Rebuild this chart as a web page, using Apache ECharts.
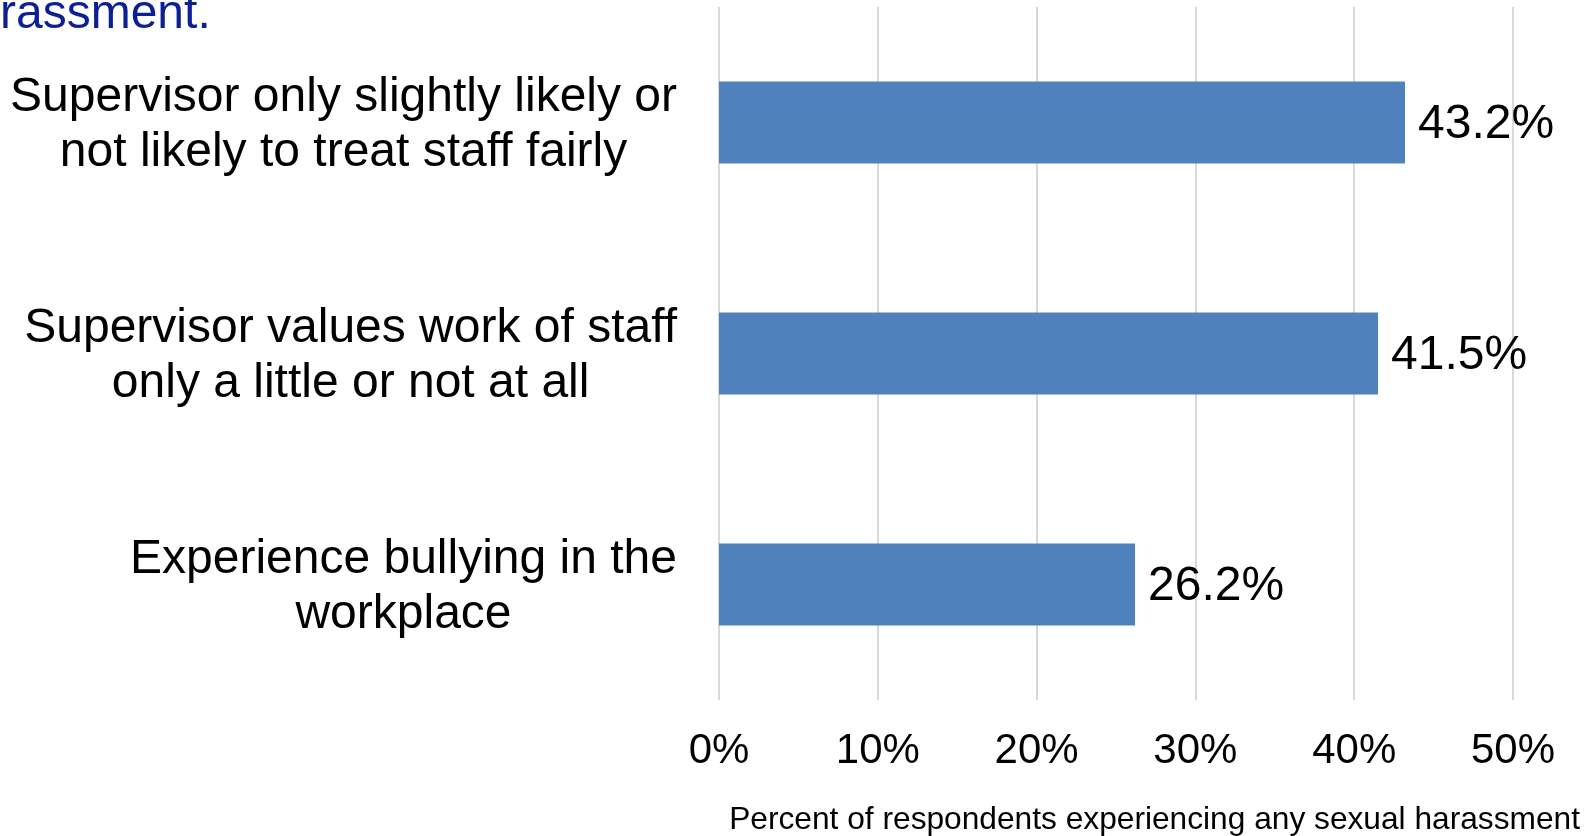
<!DOCTYPE html>
<html>
<head>
<meta charset="utf-8">
<script src="https://cdn.jsdelivr.net/npm/echarts@6/dist/echarts.min.js"></script>
<style>
  html, body { margin: 0; padding: 0; background: #fff; }
  #chart { width: 1591px; height: 836px; }
</style>
</head>
<body>
<div id="chart"></div>
<script>
// Workplace factors (top to bottom) and share of respondents reporting harassment
const categories = [
  'Supervisor only slightly likely or\nnot likely to treat staff fairly',
  'Supervisor values work of staff\nonly a little or not at all',
  'Experience bullying in the\nworkplace'
];
const values = [43.2, 41.5, 26.2];
const axisTicks = [0, 10, 20, 30, 40, 50];
const axisTitle = 'Percent of respondents experiencing any sexual harassment';
const headingTail = 'rassment.';

const FONT = "'Liberation Sans', Arial, sans-serif";

const chart = echarts.init(document.getElementById('chart'), null, { renderer: 'canvas' });

chart.setOption({
  animation: false,
  backgroundColor: '#ffffff',
  grid: { left: 719, right: 78, top: 7, bottom: 136, containLabel: false },
  xAxis: {
    type: 'value',
    min: axisTicks[0],
    max: axisTicks[axisTicks.length - 1],
    interval: axisTicks[1] - axisTicks[0],
    axisLine: { show: false },
    axisTick: { show: false },
    axisLabel: {
      formatter: '{value}%',
      fontFamily: FONT,
      fontSize: 42,
      color: '#000',
      margin: 30
    },
    splitLine: { show: true, lineStyle: { color: '#d9d9d9', width: 2 } }
  },
  yAxis: {
    type: 'category',
    inverse: true,
    data: categories,
    axisLine: { show: false },
    axisTick: { show: false },
    axisLabel: {
      margin: 42,
      padding: [5, 0, 0, 0],
      formatter: v => v.split('\n').map(l => '{c|' + l + '}').join('\n'),
      rich: {
        c: { align: 'center', fontFamily: FONT, fontSize: 48, lineHeight: 55, color: '#000' }
      }
    }
  },
  series: [{
    type: 'bar',
    data: values,
    barWidth: '35.5%',
    itemStyle: { color: '#4f81bd' },
    label: {
      show: true,
      position: 'right',
      distance: 13,
      offset: [0, 2],
      formatter: p => p.value.toFixed(1) + '%',
      fontFamily: FONT,
      fontSize: 48,
      color: '#000'
    }
  }],
  graphic: [
    {
      type: 'text',
      left: 0,
      top: -9,
      style: { text: headingTail, fontFamily: FONT, fontSize: 48, fill: '#0c1f94' }
    },
    {
      type: 'text',
      right: 11,
      top: 804,
      style: { text: axisTitle, fontFamily: FONT, fontSize: 31.7, fill: '#000' }
    }
  ]
});
</script>
</body>
</html>
